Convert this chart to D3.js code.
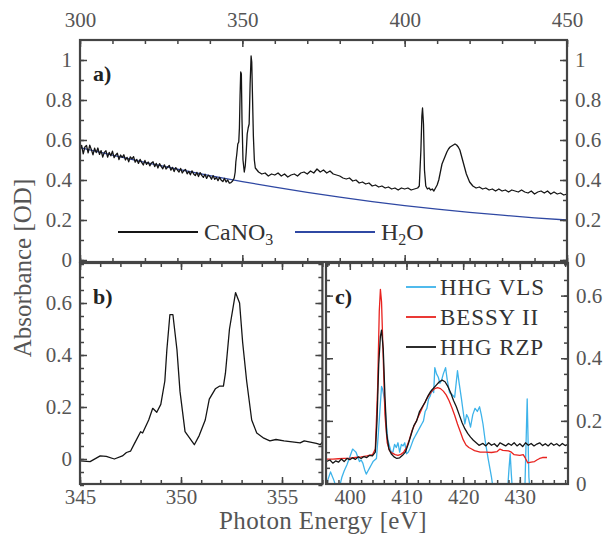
<!DOCTYPE html>
<html>
<head>
<meta charset="utf-8">
<script src="https://cdn.jsdelivr.net/npm/d3@7"></script>
<style>
  body { margin: 0; background: #fff; }
  svg text { font-family: "Liberation Serif", "DejaVu Serif", serif; }
</style>
</head>
<body>
<script>
// ---- data ----
// panel a: full spectrum, [energy eV, absorbance OD]
var caNO3 = [
  [300,0.550],[300.5,0.573],[301,0.531],[301.5,0.565],[302,0.573],[302.5,0.536],[303,0.574],[303.5,0.552],[304,0.526],[304.5,0.559],
  [305,0.537],[305.5,0.560],[306,0.528],[306.5,0.547],[307,0.515],[307.5,0.538],[308,0.546],[308.5,0.514],[309,0.538],[309.5,0.521],
  [310,0.544],[310.5,0.512],[311,0.525],[311.5,0.534],[312,0.502],[312.5,0.525],[313,0.513],[313.5,0.526],[314,0.500],[314.5,0.513],
  [315,0.491],[315.5,0.516],[316,0.506],[316.5,0.517],[317,0.489],[317.5,0.503],[318,0.483],[318.5,0.503],[319,0.488],[319.5,0.475],
  [320,0.498],[320.5,0.478],[321,0.490],[321.5,0.471],[322,0.485],[322.5,0.491],[323,0.467],[323.5,0.483],[324,0.460],[324.5,0.482],
  [325,0.468],[325.5,0.456],[326,0.476],[326.5,0.455],[327,0.465],[327.5,0.473],[328,0.449],[328.5,0.463],[329,0.442],[329.5,0.462],
  [330,0.450],[330.5,0.440],[331,0.458],[331.5,0.435],[332,0.447],[332.5,0.453],[333,0.431],[333.5,0.443],[334,0.426],[334.5,0.446],
  [335,0.430],[335.5,0.422],[336,0.438],[336.5,0.417],[337,0.437],[337.5,0.423],[338,0.413],[338.5,0.429],[339,0.408],[339.5,0.424],
  [340,0.418],[340.5,0.404],[341,0.422],[341.5,0.403],[342,0.413],[342.5,0.397],[343,0.413],[343.5,0.399],[344,0.392],[344.5,0.408],
  [345,0.390],[345.5,0.400],[346,0.384],[346.5,0.387],[347,0.395],
  [347.5,0.41],[347.8,0.44],[348,0.49],[348.3,0.53],[348.6,0.58],[348.9,0.59],[349.1,0.66],[349.3,0.82],[349.5,0.94],[349.7,0.93],
  [349.9,0.70],[350.2,0.50],[350.6,0.44],[350.9,0.47],[351.2,0.54],[351.5,0.63],[351.8,0.66],[352.1,0.68],[352.4,0.88],[352.7,1.02],
  [352.9,0.99],[353.1,0.84],[353.4,0.62],[353.7,0.50],[354,0.46],[354.5,0.45],
  [355,0.44],[356,0.43],[357,0.435],[358,0.42],[359,0.43],[360,0.425],[361,0.435],[362,0.42],[363,0.43],[364,0.415],
  [365,0.425],[366,0.43],[367,0.42],[368,0.435],[369,0.44],[370,0.43],[371,0.445],[372,0.435],[373,0.455],[374,0.44],
  [375,0.45],[376,0.435],[377,0.445],[378,0.43],[379,0.425],[380,0.42],[381,0.41],[382,0.405],[383,0.41],[384,0.395],
  [385,0.40],[386,0.385],[387,0.39],[388,0.38],[389,0.385],[390,0.37],[391,0.375],[392,0.365],[393,0.37],[394,0.36],
  [395,0.365],[396,0.355],[397,0.36],[398,0.35],[399,0.36],[400,0.355],[401,0.36],[402,0.35],[403,0.355],[404,0.36],
  [404.5,0.37],[405,0.55],[405.3,0.72],[405.5,0.76],[405.8,0.68],[406.1,0.45],[406.5,0.37],[407,0.355],[407.5,0.36],[408,0.35],
  [408.5,0.355],[409,0.345],[409.5,0.36],[410,0.375],[410.5,0.40],[411,0.44],[411.5,0.48],[412,0.50],[412.5,0.52],[413,0.54],
  [413.5,0.555],[414,0.565],[414.5,0.57],[415,0.575],[415.5,0.58],[416,0.575],[416.5,0.565],[417,0.55],[417.5,0.52],[418,0.49],
  [418.5,0.46],[419,0.43],[419.5,0.41],[420,0.39],[420.5,0.38],[421,0.37],[421.5,0.365],[422,0.36],
  [423,0.365],[424,0.355],[425,0.36],[426,0.35],[427,0.355],[428,0.345],[429,0.355],[430,0.345],[431,0.35],[432,0.34],
  [433,0.35],[434,0.345],[435,0.34],[436,0.35],[437,0.34],[438,0.335],[439,0.345],[440,0.33],[441,0.34],[442,0.345],
  [443,0.335],[444,0.345],[445,0.33],[446,0.34],[447,0.33],[448,0.335],[449,0.325],[450,0.33]
];
var water = [
  [300,0.562],[310,0.524],[320,0.488],[330,0.454],[340,0.422],[350,0.392],[360,0.364],[370,0.338],
  [380,0.314],[390,0.292],[400,0.272],[410,0.254],[420,0.238],[430,0.224],[440,0.211],[450,0.2]
];

// panel b: N K-edge zoom (background removed)
var nEdge = [
  [345,-0.007],[345.5,-0.01],[346,0.012],[346.3,0.01],[346.7,0.0],[347.1,0.012],[347.3,0.025],[347.5,0.03],[347.7,0.06],
  [348,0.105],[348.1,0.10],[348.4,0.15],[348.6,0.195],[348.8,0.18],[349,0.21],[349.2,0.3],[349.3,0.42],[349.45,0.555],
  [349.6,0.555],[349.8,0.42],[349.95,0.26],[350.2,0.105],[350.66,0.055],[350.9,0.09],[351.2,0.15],[351.4,0.23],[351.7,0.27],
  [351.9,0.28],[352.1,0.28],[352.2,0.33],[352.4,0.5],[352.7,0.64],[352.9,0.6],[353.05,0.45],[353.25,0.3],[353.5,0.15],
  [353.75,0.1],[354.1,0.08],[354.4,0.07],[354.7,0.075],[355.1,0.07],[355.6,0.065],[355.9,0.062],[356.1,0.07],[356.4,0.065],
  [356.7,0.06],[356.9,0.055],[357,0.065]
];

// panel c: Ca L-edge, three sources
var hhgVLS = [
  [395.8,-0.02],[396.1,0.01],[396.6,0.037],[397.2,0.01],[397.7,-0.02],[398.2,-0.01],[398.6,0.02],[399,0.04],[399.5,0.06],
  [399.9,0.08],[400.5,0.11],[400.8,0.105],[401.1,0.1],[401.5,0.08],[401.7,0.07],[402,0.075],[402.3,0.065],[402.6,0.045],
  [402.9,0.03],[403.2,0.04],[403.5,0.05],[403.8,0.06],[404.1,0.07],[404.4,0.075],[404.7,0.08],[405,0.15],[405.3,0.23],
  [405.6,0.31],[405.8,0.3],[406.1,0.27],[406.4,0.2],[406.7,0.14],[407,0.12],[407.3,0.1],[407.6,0.1],[407.9,0.125],
  [408.2,0.115],[408.5,0.13],[408.8,0.1],[409.1,0.125],[409.4,0.12],[409.7,0.13],[410,0.095],[410.3,0.1],[410.6,0.11],
  [410.9,0.125],[411.2,0.14],[411.5,0.15],[411.8,0.16],[412.1,0.17],[412.4,0.18],[412.7,0.19],[413,0.2],[413.3,0.23],
  [413.6,0.24],[413.9,0.27],[414.2,0.28],[414.5,0.3],[414.8,0.29],[415,0.37],[415.3,0.35],[415.6,0.34],[415.9,0.32],
  [416.2,0.33],[416.5,0.35],[416.9,0.37],[417.2,0.33],[417.6,0.29],[418,0.285],[418.5,0.275],[419,0.36],[419.3,0.32],
  [419.7,0.27],[420,0.23],[420.3,0.19],[420.6,0.22],[420.9,0.21],[421.3,0.18],[421.7,0.22],[422.1,0.24],[422.5,0.23],
  [422.9,0.245],[423.2,0.22],[423.5,0.19],[423.9,0.135],[424.4,0.08],[425,0.02],[425.4,-0.03],[426,-0.06],[427,-0.08],
  [427.8,-0.03],[428.1,0.05],[428.3,0.095],[428.5,0.03],[428.8,-0.05],[429.5,-0.08],[430.3,-0.06],[430.9,-0.01],
  [431.3,0.27],[431.6,0.02],[432,-0.07],[433,-0.1]
];
var bessy = [
  [395.8,0.078],[397,0.078],[398,0.079],[399,0.08],[400,0.081],[401,0.083],[402,0.085],[403,0.088],[404,0.092],[404.5,0.11],
  [404.9,0.3],[405.2,0.55],[405.4,0.62],[405.6,0.58],[405.9,0.4],[406.2,0.22],[406.6,0.13],[407,0.105],[407.5,0.097],
  [408,0.092],[408.5,0.09],[409,0.093],[409.5,0.1],[410,0.115],[410.5,0.14],[411,0.17],[411.5,0.19],[412,0.21],[412.5,0.23],
  [413,0.25],[413.5,0.268],[414,0.283],[414.5,0.295],[415,0.303],[415.5,0.306],[416,0.303],[416.5,0.295],[417,0.283],
  [417.5,0.265],[418,0.243],[418.5,0.218],[419,0.19],[419.5,0.165],[420,0.14],[420.5,0.123],[421,0.115],[421.5,0.11],
  [422,0.105],[423,0.1],[424,0.1],[425,0.099],[426,0.102],[426.5,0.11],[427,0.106],[428,0.104],[428.5,0.1],[429,0.092],
  [430,0.09],[430.6,0.092],[431,0.08],[431.4,0.066],[432,0.068],[432.6,0.07],[433,0.075],[433.5,0.08],[434,0.083],[434.8,0.083]
];
var hhgRZP = [
  [395.8,0.07],[396.5,0.075],[397,0.065],[397.5,0.072],[398,0.068],[398.5,0.078],[399,0.07],[399.5,0.08],[400,0.076],
  [400.5,0.082],[401,0.077],[401.5,0.085],[402,0.08],[402.5,0.086],[403,0.083],[403.5,0.09],[404,0.088],[404.5,0.1],
  [404.8,0.2],[405.1,0.38],[405.4,0.47],[405.6,0.49],[405.9,0.43],[406.2,0.28],[406.5,0.16],[406.9,0.11],[407.3,0.095],
  [407.8,0.085],[408.3,0.08],[408.8,0.082],[409.3,0.09],[409.8,0.1],[410.3,0.125],[410.8,0.155],[411.3,0.185],[411.8,0.2],
  [412.3,0.23],[412.8,0.245],[413.3,0.26],[413.8,0.28],[414.3,0.295],[414.8,0.305],[415.3,0.315],[415.8,0.325],[416.3,0.33],
  [416.8,0.325],[417.3,0.31],[417.8,0.29],[418.3,0.265],[418.8,0.245],[419.3,0.22],[419.8,0.195],[420.3,0.175],[420.8,0.16],
  [421.3,0.148],[421.8,0.138],[422.3,0.13],[422.8,0.122],[423.5,0.128],[424,0.12],[424.5,0.13],[425,0.122],[425.5,0.127],
  [426,0.118],[426.5,0.13],[427,0.125],[427.5,0.12],[428,0.128],[428.5,0.122],[429,0.13],[429.5,0.12],[430,0.127],
  [430.5,0.118],[431,0.13],[431.5,0.122],[432,0.128],[432.5,0.12],[433,0.126],[433.5,0.13],[434,0.121],[434.5,0.127],
  [435,0.12],[435.5,0.129],[436,0.122],[436.5,0.127],[437,0.12],[437.5,0.128],[438,0.121],[438.5,0.125]
];

// tick values
var aTopLabels = [300, 350, 400, 450];
var aYLabels = [0, 0.2, 0.4, 0.6, 0.8, 1];
var bXLabels = [345, 350, 355];
var bYLabels = [0, 0.2, 0.4, 0.6];
var cXLabels = [400, 410, 420, 430];
var cYLabels = [0, 0.2, 0.4, 0.6];

var w = 611, h = 538;
var frameCol = "#444", labelCol = "#555";
var serif = "'Liberation Serif', 'DejaVu Serif', serif";

var svg = d3.select("body").append("svg")
  .attr("width", w).attr("height", h);

// scales
var xA = d3.scaleLinear().domain([300, 450]).range([80, 567]);
var yA = d3.scaleLinear().domain([-0.01, 1.1]).range([262, 40]);
var xB = d3.scaleLinear().domain([345, 357]).range([80, 322.4]);
var yB = d3.scaleLinear().domain([-0.1, 0.75]).range([485, 264]);
var xC = d3.scaleLinear().domain([395.8, 438.5]).range([326, 568]);
var yC = d3.scaleLinear().domain([0, 0.7]).range([483.5, 264.3]);

var fmt = function(d) { return String(+d.toFixed(2)); };

// draws minor + major inward ticks, labels outside when pad is given
function ticks(axisFn, scale, pos, minor, major, pad) {
  var g1 = svg.append("g").attr("transform", pos)
    .call(axisFn(scale).tickValues(minor).tickSizeInner(-4).tickSizeOuter(0).tickFormat(""));
  var a = axisFn(scale).tickValues(major).tickSizeInner(-7).tickSizeOuter(0)
    .tickFormat(pad != null ? fmt : "").tickPadding(pad != null ? pad : 0);
  var g2 = svg.append("g").attr("transform", pos).call(a);
  [g1, g2].forEach(function(g) {
    g.attr("font-family", serif);
    g.select(".domain").remove();
    g.selectAll("line").attr("stroke", frameCol).attr("stroke-width", 1.5);
    g.selectAll("text").attr("fill", labelCol).attr("font-size", 21);
  });
}

function frame(x0, x1, y0, y1) {
  svg.append("rect").attr("x", x0).attr("y", y0)
    .attr("width", x1 - x0).attr("height", y1 - y0)
    .attr("fill", "none").attr("stroke", frameCol).attr("stroke-width", 2.2);
}

function clip(id, x0, x1, y0, y1) {
  svg.append("clipPath").attr("id", id).append("rect")
    .attr("x", x0).attr("y", y0).attr("width", x1 - x0).attr("height", y1 - y0);
}

function curve(data, xs, ys, col, clipId, sw) {
  var line = d3.line().x(function(d) { return xs(d[0]); }).y(function(d) { return ys(d[1]); });
  svg.append("path").datum(data)
    .attr("d", line)
    .attr("fill", "none").attr("stroke", col).attr("stroke-width", sw || 1.3)
    .attr("stroke-linejoin", "round")
    .attr("clip-path", "url(#" + clipId + ")");
}

clip("ca", 80, 567, 40, 262);
clip("cb", 80, 322.4, 263, 484);
clip("cc", 326, 568, 263, 484);

// ---- panel a ----
curve(water, xA, yA, "#2f48a3", "ca", 1.3);
curve(caNO3, xA, yA, "#151515", "ca", 1.3);

var aMinorX = d3.range(300, 451, 10);
var aMinorY = d3.range(0, 1.05, 0.1);
ticks(d3.axisTop, xA, "translate(0,40)", aMinorX, aTopLabels, 13);
ticks(d3.axisBottom, xA, "translate(0,262)", aMinorX, aTopLabels, null);
ticks(d3.axisLeft, yA, "translate(80,0)", aMinorY, aYLabels, 8);
ticks(d3.axisRight, yA, "translate(567,0)", aMinorY, aYLabels, 8);
frame(80, 567, 40, 262);

// legend a
var legA = [
  { name: "CaNO", sub: "3", tail: "", col: "#151515", x: 118 },
  { name: "H", sub: "2", tail: "O", col: "#2f48a3", x: 295 }
];
legA.forEach(function(d) {
  svg.append("line").attr("x1", d.x).attr("x2", d.x + 80).attr("y1", 232).attr("y2", 232)
    .attr("stroke", d.col).attr("stroke-width", 1.8);
  var t = svg.append("text").attr("x", d.x + 86).attr("y", 240)
    .attr("font-size", 24).attr("fill", "#333");
  t.append("tspan").text(d.name);
  t.append("tspan").attr("font-size", 16).attr("dy", 5).text(d.sub);
  if (d.tail) t.append("tspan").attr("dy", -5).text(d.tail);
});

// ---- panel b ----
curve(nEdge, xB, yB, "#151515", "cb", 1.3);
var bMinorX = d3.range(345, 357.1, 1);
var bMinorY = d3.range(-0.1, 0.751, 0.05);
ticks(d3.axisBottom, xB, "translate(0,484)", bMinorX, bXLabels, 5);
ticks(d3.axisTop, xB, "translate(0,263)", bMinorX, bXLabels, null);
ticks(d3.axisLeft, yB, "translate(80,0)", bMinorY, bYLabels, 8);
ticks(d3.axisRight, yB, "translate(322.4,0)", bMinorY, bYLabels, null);
frame(80, 322.4, 263, 484);

// ---- panel c ----
curve(hhgVLS, xC, yC, "#3db3ea", "cc", 1.3);
curve(bessy, xC, yC, "#e8231f", "cc", 1.3);
curve(hhgRZP, xC, yC, "#151515", "cc", 1.3);
var cMinorX = d3.range(396, 438.6, 2);
var cMinorY = d3.range(0, 0.701, 0.05);
ticks(d3.axisBottom, xC, "translate(0,484)", cMinorX, cXLabels, 5);
ticks(d3.axisTop, xC, "translate(0,263)", cMinorX, cXLabels, null);
ticks(d3.axisLeft, yC, "translate(326,0)", cMinorY, cYLabels, null);
ticks(d3.axisRight, yC, "translate(568,0)", cMinorY, cYLabels, 8);
frame(326, 568, 263, 484);

// legend c
var legC = [
  { name: "HHG VLS", col: "#3db3ea" },
  { name: "BESSY II", col: "#e8231f" },
  { name: "HHG RZP", col: "#151515" }
];
legC.forEach(function(d, i) {
  var y = 287 + i * 30;
  svg.append("line").attr("x1", 406).attr("x2", 436).attr("y1", y).attr("y2", y)
    .attr("stroke", d.col).attr("stroke-width", 1.8);
  svg.append("text").attr("x", 440).attr("y", y + 8)
    .attr("font-size", 23).attr("letter-spacing", 0.9).attr("fill", "#333").text(d.name);
});

// panel letters
[["a)", 93, 81], ["b)", 93, 304], ["c)", 335, 304]].forEach(function(p) {
  svg.append("text").attr("x", p[1]).attr("y", p[2])
    .attr("font-size", 22).attr("font-weight", "bold").attr("fill", "#222").text(p[0]);
});

// axis titles
svg.append("text").attr("x", 323).attr("y", 529).attr("text-anchor", "middle")
  .attr("font-size", 25).attr("letter-spacing", 0.4).attr("fill", labelCol).text("Photon Energy [eV]");
svg.append("text").attr("transform", "translate(31,268) rotate(-90)").attr("text-anchor", "middle")
  .attr("font-size", 25).attr("fill", labelCol).text("Absorbance [OD]");
</script>
</body>
</html>
